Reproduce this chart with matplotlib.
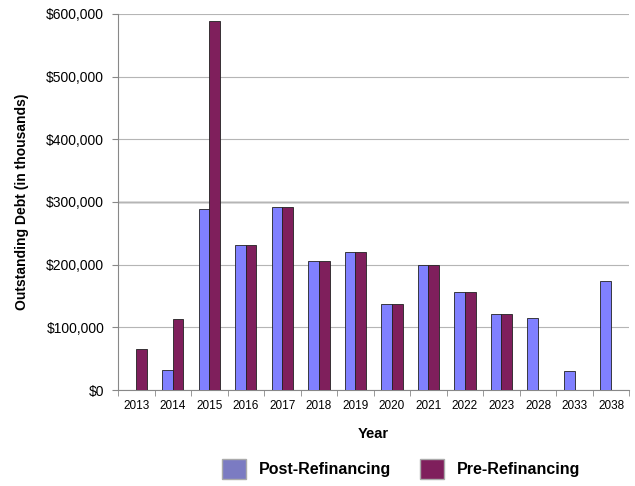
import numpy as np
import matplotlib.pyplot as plt
from matplotlib.ticker import FuncFormatter
from matplotlib.patches import Patch

plt.rcParams['font.family'] = ['Liberation Sans', 'DejaVu Sans']

# debt maturity by year, in thousands of dollars
years = ['2013', '2014', '2015', '2016', '2017', '2018', '2019',
         '2020', '2021', '2022', '2023', '2028', '2033', '2038']
post_refi = [0, 32000, 288000, 232000, 292000, 206000, 220000,
             137000, 200000, 156000, 122000, 115000, 30000, 174000]
pre_refi = [65000, 114000, 589000, 232000, 292000, 206000, 220000,
            137000, 200000, 156000, 122000, 0, 0, 0]

post_color = '#8080ff'
pre_color = '#7f1f5c'

fig = plt.figure(figsize=(6.35, 4.86), dpi=100)
ax = fig.add_axes([0.186, 0.1975, 0.805, 0.774])

x = np.arange(len(years))
w = 0.29
ax.bar(x - w / 2, post_refi, w, color=post_color, edgecolor='#222222', linewidth=0.6, zorder=3)
ax.bar(x + w / 2, pre_refi, w, color=pre_color, edgecolor='#222222', linewidth=0.6, zorder=3)

ax.set_xlim(-0.5, len(years) - 0.5)
ax.set_ylim(0, 600000)
ax.set_yticks(np.arange(0, 600001, 100000))
ax.yaxis.set_major_formatter(FuncFormatter(lambda v, p: '${:,.0f}'.format(v)))
ax.grid(axis='y', color='#b5b5b5', linewidth=0.8, zorder=0)
ax.axhline(300000, color='#555555', linewidth=1.0, zorder=1)

ax.set_xticks(x)
ax.set_xticklabels(years)
ax.set_xticks(np.arange(-0.5, len(years)), minor=True)
ax.tick_params(axis='x', which='major', length=0, labelsize=8.5, pad=7)
ax.tick_params(axis='x', which='minor', length=4, color='#888888')
ax.tick_params(axis='y', length=4, color='#888888', labelsize=10, pad=6)

for s in ['top', 'right']:
    ax.spines[s].set_visible(False)
ax.spines['left'].set_color('#888888')
ax.spines['bottom'].set_color('#888888')

ax.set_xlabel('Year', fontsize=10.5, fontweight='bold', labelpad=11)
ax.set_ylabel('Outstanding Debt (in thousands)', fontsize=10, fontweight='bold', labelpad=12)

handles = [Patch(facecolor='#7b7bc2', edgecolor='#aaaaaa', label='Post-Refinancing'),
           Patch(facecolor=pre_color, edgecolor='#aaaaaa', label='Pre-Refinancing')]
fig.legend(handles=handles, loc='center', bbox_to_anchor=(0.632, 0.035), ncol=2,
           frameon=False, prop={'size': 11.5, 'weight': 'bold'},
           handlelength=1.5, handleheight=1.6, columnspacing=1.8)

fig.savefig('out.png', dpi=100)
